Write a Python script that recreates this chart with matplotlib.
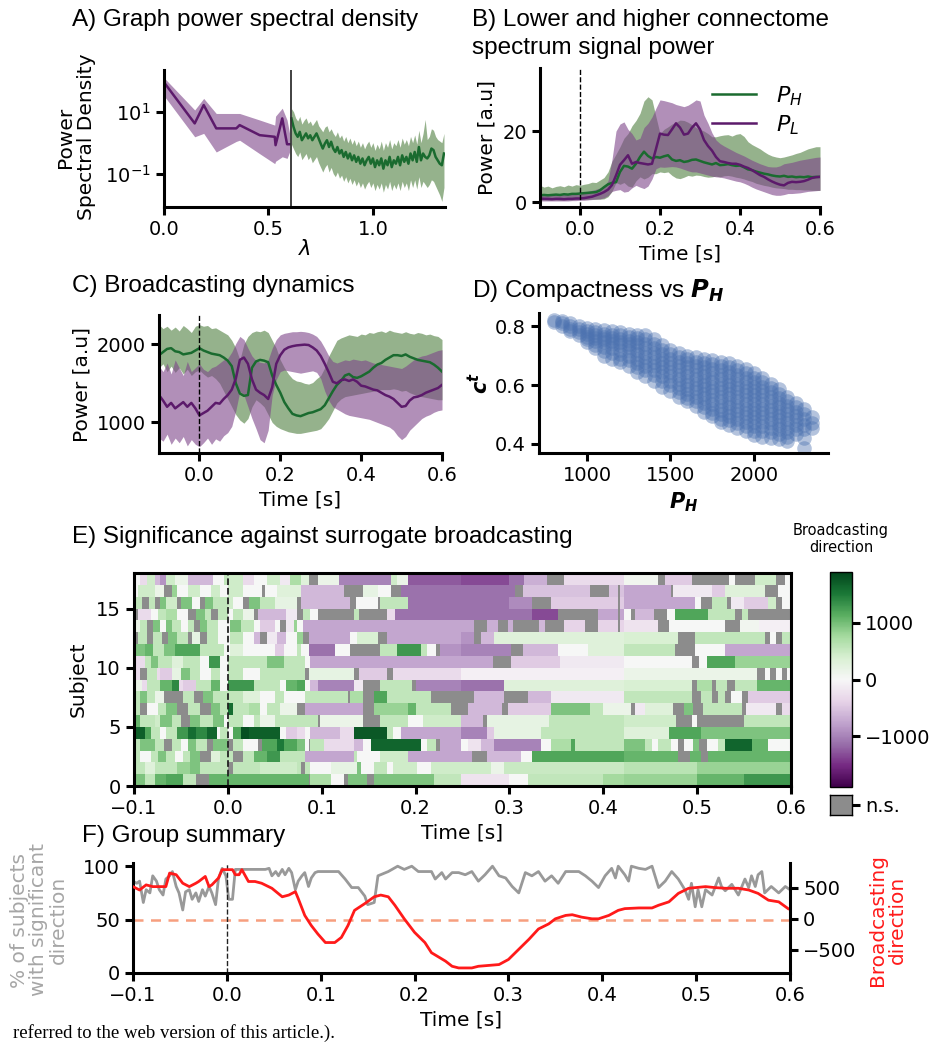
import numpy as np
import matplotlib
matplotlib.use('Agg')
import matplotlib.pyplot as plt
import matplotlib.ticker as mticker

plt.rcParams['font.family'] = ['DejaVu Sans']
plt.rcParams['mathtext.fontset'] = 'dejavusans'

# ---------------- DATA ----------------
# Panel A: graph power spectral density
lam_L = [0.003, 0.147, 0.19, 0.25, 0.346, 0.362, 0.458, 0.53, 0.534, 0.566, 0.589, 0.601]
psd_L = [84, 4.2, 16.5, 2.9, 2.9, 3.7, 1.75, 1.55, 0.83, 6.1, 0.89, 0.89]
psd_L_hi = [120, 11.4, 27, 8.8, 8.8, 8.8, 5.4, 3.7, 7.2, 13.0, 5.4, 2.0]
psd_L_lo = [31, 1.55, 2.0, 0.5, 1.1, 1.2, 0.44, 0.21, 0.25, 0.35, 0.31, 0.5]
lam_H = np.round(np.arange(0.61, 1.345, 0.01), 2)
psd_H_log10 = [0.785, 0.51, 0.30, 0.19, 0.35, 0.08, 0.19, 0.30, 0.14, 0.24,
               0.08, 0.19, 0.30, 0.14, -0.03, -0.19, -0.03, 0.08, -0.14, 0.03,
               -0.19, -0.30, -0.14, -0.35, -0.24, -0.46, -0.30, -0.51, -0.35, -0.57,
               -0.41, -0.62, -0.46, -0.68, -0.51, -0.73, -0.57, -0.46, -0.68, -0.51,
               -0.79, -0.57, -0.73, -0.51, -0.84, -0.57, -0.73, -0.46, -0.79, -0.57,
               -0.68, -0.46, -0.73, -0.41, -0.62, -0.46, -0.68, -0.35, -0.57, -0.30,
               -0.62, -0.14, -0.57, -0.35, -0.46, -0.51, -0.41, -0.19, -0.24, -0.46,
               -0.57, -0.68, -0.73, -0.35]
psd_H_hi_log10 = [1.10, 1.00, 0.80, 0.70, 0.85, 0.60, 0.72, 0.80, 0.62, 0.70,
                  0.55, 0.65, 0.75, 0.55, 0.45, 0.35, 0.50, 0.55, 0.35, 0.45,
                  0.30, 0.20, 0.35, 0.15, 0.25, 0.05, 0.20, 0.00, 0.15, -0.05,
                  0.10, -0.10, 0.05, -0.15, 0.00, -0.20, -0.05, 0.05, -0.15, 0.00,
                  -0.25, -0.05, -0.20, 0.05, -0.25, 0.00, -0.15, 0.10, -0.20, 0.00,
                  -0.10, 0.10, -0.15, 0.15, -0.05, 0.10, -0.10, 0.20, 0.00, 0.25,
                  -0.05, 0.40, 0.00, 0.30, 0.75, 0.10, 0.20, 0.45, 0.40, 0.20,
                  0.10, 0.05, 0.00, 0.30]
psd_H_lo_log10 = [-0.05, -0.20, -0.35, -0.45, -0.30, -0.55, -0.45, -0.35, -0.55, -0.45,
                  -0.65, -0.55, -0.45, -0.65, -0.80, -0.95, -0.80, -0.70, -0.95, -0.80,
                  -1.00, -1.10, -0.95, -1.15, -1.05, -1.25, -1.10, -1.30, -1.15, -1.35,
                  -1.20, -1.40, -1.25, -1.45, -1.30, -1.50, -1.35, -1.25, -1.45, -1.30,
                  -1.55, -1.35, -1.50, -1.30, -1.60, -1.35, -1.50, -1.25, -1.55, -1.35,
                  -1.50, -1.30, -1.55, -1.25, -1.45, -1.30, -1.55, -1.20, -1.45, -1.20,
                  -1.50, -1.10, -1.45, -1.25, -1.35, -1.45, -1.35, -1.20, -1.25, -1.40,
                  -1.55, -1.70, -1.90, -1.45]
lam_cut = 0.61

# Panels B and C share a time axis (s)
t_bc = np.round(np.arange(-0.10, 0.601, 0.01), 2)
B_PH = [1.9, 2.0, 1.9, 2.0, 2.1, 2.0, 2.2, 2.1, 2.3, 2.3,
        2.4, 2.5, 2.6, 2.7, 2.8, 3.3, 4.2, 5.0, 5.4, 5.6,
        8.5, 10.2, 10.0, 9.4, 10.8, 12.7, 14.2, 13.0, 12.3, 12.7,
        12.5, 12.9, 13.2, 12.0, 11.6, 11.8, 11.3, 11.5, 11.9, 12.0,
        11.6, 11.2, 10.9, 10.6, 11.0, 10.4, 10.5, 10.7, 10.4, 10.2,
        10.3, 9.8, 9.2, 9.0, 8.6, 8.3, 8.0, 7.8, 7.5, 7.3,
        7.2, 7.4, 7.1, 7.2, 7.0, 7.1, 7.0, 7.2, 7.0, 7.1, 7.1]
B_PL = [1.0, 0.9, 0.9, 0.8, 0.9, 0.9, 0.8, 0.9, 0.9, 1.0,
        1.0, 1.1, 1.3, 1.5, 1.9, 2.3, 2.8, 3.5, 4.8, 7.5,
        10.5, 11.8, 13.2, 10.8, 11.3, 11.0, 10.8, 10.6, 10.8, 15.0,
        19.3, 19.0, 18.9, 20.5, 22.2, 21.0, 19.0, 19.3, 21.0, 22.2,
        20.5, 17.5, 15.8, 14.5, 12.7, 11.5, 11.3, 11.0, 10.8, 10.8,
        10.5, 10.0, 9.6, 9.0, 8.3, 7.6, 7.1, 6.4, 5.8, 5.3,
        4.9, 4.7, 5.4, 5.7, 5.6, 5.7, 5.9, 6.3, 6.8, 7.0, 7.1]
B_PH_hi = [4.7, 4.2, 4.5, 4.0, 4.4, 4.6, 4.3, 4.8, 4.5, 4.9,
           4.7, 5.0, 5.2, 5.6, 5.5, 6.2, 6.9, 8.5, 11.5, 13.5,
           15.6, 18.0, 19.3, 21.5, 23.0, 25.0, 28.5, 29.7, 28.8, 24.0,
           19.3, 20.5, 21.2, 22.0, 22.5, 23.1, 23.0, 22.5, 21.8, 21.0,
           20.5, 20.0, 19.3, 18.4, 18.4, 18.7, 18.9, 19.0, 18.6, 19.1,
           19.3, 18.5, 17.0, 16.2, 15.6, 15.0, 14.2, 13.5, 13.0, 12.7,
           12.5, 12.7, 13.0, 13.3, 13.7, 14.0, 14.5, 15.0, 15.3, 15.6, 15.6]
B_PH_lo = [0.5, 0.6, 0.5, 0.6, 0.6, 0.5, 0.6, 0.6, 0.6, 0.7,
           0.7, 0.7, 0.7, 0.8, 0.8, 0.8, 0.9, 1.5, 3.0, 5.5,
           5.0, 5.5, 4.5, 4.2, 6.0, 7.1, 6.5, 7.0, 8.0, 8.0,
           8.5, 8.3, 8.5, 7.5, 6.8, 6.6, 7.0, 7.5, 7.3, 7.6,
           7.5, 7.2, 7.0, 7.1, 7.3, 7.1, 7.4, 7.5, 7.3, 7.0,
           6.8, 6.5, 6.1, 5.8, 5.3, 5.0, 4.7, 4.5, 4.2, 4.0,
           3.9, 3.8, 3.6, 3.6, 3.5, 3.5, 3.4, 3.4, 3.3, 3.3, 3.3]
B_PL_hi = [2.4, 2.3, 2.4, 2.3, 2.4, 2.3, 2.4, 2.4, 2.4, 2.5,
           2.5, 2.7, 3.0, 3.3, 3.6, 4.0, 4.3, 6.0, 12.0, 20.0,
           22.0, 22.6, 20.5, 19.3, 17.5, 18.0, 21.0, 22.2, 24.0, 26.5,
           28.8, 28.6, 28.3, 28.0, 27.5, 27.2, 26.9, 27.3, 28.0, 28.8,
           28.5, 24.5, 22.2, 19.5, 17.5, 16.5, 15.8, 15.2, 14.6, 14.0,
           13.5, 13.0, 12.4, 11.8, 11.3, 10.8, 10.4, 10.0, 9.9, 9.9,
           10.2, 10.8, 11.0, 11.2, 11.5, 11.8, 12.0, 12.2, 12.4, 12.6, 12.7]
B_PL_lo = [0.3, 0.3, 0.3, 0.3, 0.3, 0.3, 0.3, 0.3, 0.4, 0.4,
           0.5, 0.5, 0.6, 0.7, 0.8, 0.9, 1.2, 1.8, 3.0, 3.3,
           3.5, 2.8, 3.0, 4.0, 4.7, 4.2, 3.8, 4.5, 6.5, 9.4,
           9.9, 9.8, 9.9, 10.0, 9.9, 9.6, 9.2, 8.8, 8.5, 8.5,
           8.2, 7.9, 7.6, 7.3, 7.1, 7.0, 6.8, 6.5, 6.2, 5.9,
           5.7, 5.3, 4.8, 4.2, 3.7, 3.3, 2.9, 2.5, 2.1, 1.9,
           1.9, 2.1, 2.4, 2.4, 2.5, 2.6, 2.8, 3.0, 3.1, 3.2, 3.3]

C_PH = [1860, 1900, 1940, 1950, 1910, 1900, 1870, 1880, 1890, 1920,
        1950, 1920, 1900, 1880, 1870, 1860, 1830, 1790, 1720, 1500,
        1370, 1340, 1350, 1700, 1780, 1800, 1790, 1770, 1600, 1480,
        1380, 1260, 1180, 1110, 1090, 1080, 1100, 1120, 1130, 1150,
        1170, 1220, 1310, 1400, 1480, 1530, 1600, 1620, 1580, 1570,
        1590, 1620, 1650, 1700, 1740, 1760, 1800, 1830, 1860, 1860,
        1850, 1870, 1840, 1820, 1800, 1790, 1780, 1770, 1740, 1700, 1650]
C_PL = [1350, 1280, 1200, 1250, 1180, 1220, 1260, 1200, 1250, 1180,
        1090, 1120, 1150, 1200, 1250, 1240, 1300, 1350, 1420, 1560,
        1800, 1830, 1750, 1550, 1420, 1380, 1350, 1300, 1450, 1750,
        1860, 1930, 1960, 1975, 1985, 1990, 1995, 1990, 1960, 1920,
        1850, 1750, 1640, 1520, 1500, 1540, 1550, 1530, 1550, 1520,
        1470, 1460, 1440, 1420, 1410, 1380, 1350, 1330, 1300, 1250,
        1200, 1210, 1280, 1320, 1330, 1350, 1380, 1400, 1420, 1440, 1480]
C_PH_hi = [2250, 2200, 2230, 2180, 2220, 2170, 2240, 2200, 2150, 2230,
           2250, 2230, 2240, 2200, 2210, 2180, 2150, 2120, 2050, 1950,
           1800, 2000, 2100, 2150, 2170, 2160, 2180, 2150, 2050, 1950,
           1800, 1700, 1620, 1560, 1530, 1520, 1500, 1490, 1510, 1560,
           1600, 1700, 1850, 1950, 2050, 2080, 2100, 2120, 2110, 2100,
           2130, 2120, 2150, 2140, 2160, 2170, 2150, 2180, 2160, 2150,
           2140, 2160, 2140, 2130, 2150, 2140, 2120, 2130, 2110, 2100, 2060]
C_PH_lo = [1700, 1750, 1650, 1720, 1640, 1700, 1620, 1680, 1600, 1650,
           1670, 1620, 1580, 1600, 1560, 1500, 1400, 1300, 1200, 1100,
           1030, 990, 1050, 1200, 1290, 1250, 1200, 1100, 1000, 950,
           920, 900, 880, 870, 860, 860, 870, 880, 890, 900,
           920, 980, 1050, 1150, 1250, 1300, 1330, 1340, 1350, 1360,
           1370, 1380, 1390, 1400, 1410, 1420, 1420, 1420, 1430, 1420,
           1400, 1410, 1380, 1360, 1340, 1330, 1320, 1310, 1300, 1290, 1290]
C_PL_hi = [1720, 1650, 1760, 1620, 1800, 1700, 1600, 1780, 1650, 1700,
           1750, 1680, 1650, 1700, 1720, 1760, 1800, 1820, 1900, 2010,
           2100, 2060, 1950, 1850, 1790, 1770, 1760, 1800, 1950, 2060,
           2120, 2140, 2150, 2160, 2160, 2165, 2160, 2150, 2130, 2100,
           2040, 1950, 1850, 1780, 1760, 1780, 1800, 1790, 1810, 1800,
           1790, 1800, 1780, 1760, 1750, 1740, 1730, 1720, 1710, 1700,
           1690, 1720, 1760, 1800, 1830, 1850, 1860, 1880, 1900, 1920, 1930]
C_PL_lo = [800, 760, 850, 720, 800, 740, 820, 700, 780, 720,
           690, 740, 800, 720, 790, 760, 830, 870, 950, 1150,
           1400, 1350, 1200, 1050, 920, 780, 740, 900, 1350, 1550,
           1650, 1670, 1660, 1650, 1640, 1630, 1640, 1650, 1660, 1640,
           1560, 1400, 1280, 1200, 1170, 1140, 1110, 1090, 1080, 1070,
           1060, 1050, 1040, 1020, 1000, 980, 960, 940, 900, 830,
           780, 820, 900, 950, 1000, 1050, 1080, 1100, 1130, 1150, 1160]

# Panel D: compactness vs P_H (columns of points, P_H value -> list of c^t values)
D_PH = [800, 850, 900, 950, 1000, 1050, 1100, 1150, 1200, 1250, 1300, 1350, 1400,
        1450, 1500, 1550, 1600, 1650, 1700, 1750, 1800, 1850, 1900, 1950, 2000,
        2050, 2100, 2150, 2200, 2250, 2300, 2350]
D_ct = [
    [0.822, 0.816],
    [0.818, 0.81, 0.802],
    [0.81, 0.80, 0.79, 0.785],
    [0.80, 0.79, 0.78, 0.77],
    [0.795, 0.785, 0.775, 0.765, 0.755, 0.745],
    [0.79, 0.78, 0.77, 0.76, 0.75, 0.735, 0.725],
    [0.787, 0.775, 0.765, 0.755, 0.745, 0.73, 0.715, 0.70],
    [0.783, 0.77, 0.76, 0.75, 0.74, 0.725, 0.71, 0.69],
    [0.78, 0.77, 0.755, 0.745, 0.735, 0.72, 0.705, 0.69, 0.678],
    [0.775, 0.765, 0.75, 0.74, 0.73, 0.715, 0.70, 0.685, 0.665],
    [0.77, 0.76, 0.745, 0.735, 0.72, 0.705, 0.69, 0.675, 0.66, 0.645],
    [0.77, 0.755, 0.74, 0.725, 0.71, 0.695, 0.68, 0.665, 0.65, 0.63],
    [0.755, 0.74, 0.725, 0.71, 0.695, 0.68, 0.665, 0.65, 0.635, 0.615],
    [0.735, 0.72, 0.705, 0.69, 0.675, 0.66, 0.645, 0.63, 0.615, 0.595],
    [0.72, 0.705, 0.69, 0.675, 0.66, 0.645, 0.63, 0.615, 0.60, 0.58],
    [0.71, 0.695, 0.68, 0.665, 0.65, 0.635, 0.62, 0.605, 0.59, 0.575, 0.56],
    [0.70, 0.69, 0.675, 0.66, 0.645, 0.63, 0.615, 0.60, 0.585, 0.57, 0.555, 0.545],
    [0.695, 0.68, 0.665, 0.65, 0.635, 0.62, 0.605, 0.59, 0.575, 0.56, 0.545, 0.53],
    [0.69, 0.675, 0.66, 0.645, 0.63, 0.615, 0.60, 0.585, 0.57, 0.555, 0.54, 0.525, 0.51],
    [0.685, 0.67, 0.655, 0.64, 0.625, 0.61, 0.595, 0.58, 0.565, 0.55, 0.535, 0.52, 0.505, 0.495],
    [0.68, 0.665, 0.65, 0.635, 0.62, 0.605, 0.59, 0.575, 0.56, 0.545, 0.53, 0.515, 0.50, 0.485, 0.475],
    [0.675, 0.66, 0.645, 0.63, 0.615, 0.60, 0.585, 0.57, 0.555, 0.54, 0.525, 0.51, 0.495, 0.48, 0.465],
    [0.665, 0.65, 0.635, 0.62, 0.605, 0.59, 0.575, 0.56, 0.545, 0.53, 0.515, 0.50, 0.485, 0.47, 0.455],
    [0.655, 0.64, 0.625, 0.61, 0.595, 0.58, 0.565, 0.55, 0.535, 0.52, 0.505, 0.49, 0.475, 0.46, 0.445],
    [0.64, 0.625, 0.61, 0.595, 0.58, 0.565, 0.55, 0.535, 0.52, 0.505, 0.49, 0.475, 0.46, 0.445, 0.43],
    [0.625, 0.61, 0.595, 0.58, 0.565, 0.55, 0.535, 0.52, 0.505, 0.49, 0.475, 0.46, 0.445, 0.425],
    [0.605, 0.59, 0.575, 0.56, 0.545, 0.53, 0.515, 0.50, 0.485, 0.47, 0.455, 0.44, 0.42],
    [0.585, 0.57, 0.555, 0.54, 0.525, 0.51, 0.495, 0.48, 0.465, 0.45, 0.435, 0.415],
    [0.56, 0.545, 0.53, 0.515, 0.50, 0.485, 0.47, 0.455, 0.44, 0.425, 0.41],
    [0.54, 0.525, 0.51, 0.495, 0.48, 0.465, 0.45, 0.435],
    [0.52, 0.50, 0.485, 0.465, 0.45, 0.42, 0.387],
    [0.49, 0.47, 0.455],
]

# Panel E: per-subject broadcasting direction, segments (start time, value); None = n.s.
N = None
subj17 = [(-0.1, 0), (-0.093, -300), (-0.086, 450), (-0.079, -600), (-0.072, -880), (-0.066, 450),
          (-0.057, 150), (-0.043, -600), (-0.015, 0), (-0.004, 550), (0.001, 450), (0.017, -300),
          (0.028, 0), (0.042, 450), (0.056, -150), (0.067, 700), (0.078, 300), (0.087, N), (0.096, 150),
          (0.117, -1000), (0.174, 450), (0.181, 150), (0.192, -1250), (0.249, -1350), (0.30, -1120),
          (0.316, -680), (0.339, N), (0.359, -300), (0.423, 80), (0.459, N), (0.466, -450), (0.494, N),
          (0.535, 0), (0.540, N), (0.563, 450), (0.585, N), (0.594, 0)]
subj16 = [(-0.1, 0), (-0.095, 450), (-0.079, 150), (-0.068, N), (-0.061, 820), (-0.054, 0), (-0.043, 450),
          (-0.029, 0), (-0.018, 450), (-0.008, 0), (0.001, 450), (0.017, 0), (0.036, N), (0.040, 0),
          (0.052, 300), (0.078, -600), (0.124, N), (0.144, 220), (0.16, 0), (0.174, N), (0.184, -1120),
          (0.307, N), (0.315, -520), (0.387, N), (0.407, -520), (0.416, N), (0.419, -520), (0.423, -750),
          (0.473, N), (0.475, -150), (0.516, -450), (0.53, 300), (0.573, N), (0.587, 0)]
subj15 = [(-0.1, 550), (-0.091, N), (-0.084, 550), (-0.079, N), (-0.073, 950), (-0.065, 450), (-0.054, N),
          (-0.049, 950), (-0.038, 0), (-0.029, N), (-0.024, 950), (-0.015, 550), (0.001, 450), (0.006, 0),
          (0.017, N), (0.022, 950), (0.035, 550), (0.049, 220), (0.0745, N), (0.078, -600), (0.131, N),
          (0.137, 0), (0.16, N), (0.163, 550), (0.192, -1120), (0.30, -950), (0.323, N), (0.343, -450),
          (0.416, N), (0.419, -450), (0.423, -750), (0.498, 0), (0.505, N), (0.517, 550), (0.533, N),
          (0.537, -150), (0.551, -450), (0.576, 450), (0.585, N), (0.590, 0)]
subj14 = [(-0.1, N), (-0.096, -300), (-0.082, 0), (-0.075, 550), (-0.065, 700), (-0.054, 0), (-0.043, N),
          (-0.033, 950), (-0.024, 550), (-0.017, N), (-0.010, 550), (0.001, 0), (0.006, 550), (0.017, 150),
          (0.028, N), (0.033, -600), (0.063, -150), (0.0745, N), (0.080, 550), (0.089, 0), (0.096, N),
          (0.135, 550), (0.140, N), (0.170, -300), (0.179, -1120), (0.323, -1350), (0.352, N),
          (0.394, -750), (0.416, N), (0.419, -750), (0.423, 0), (0.430, N), (0.434, -600), (0.455, N),
          (0.468, 0), (0.477, 1200), (0.512, 550), (0.540, N), (0.548, 550), (0.555, N)]
subj13 = [(-0.1, 150), (-0.093, 550), (-0.086, N), (-0.080, 950), (-0.073, 0), (-0.066, 950), (-0.061, 550),
          (-0.050, 0), (-0.043, 550), (-0.036, N), (-0.029, 950), (-0.022, 550), (-0.011, 0), (0.003, 950),
          (0.013, 550), (0.028, 0), (0.035, -450), (0.049, 0), (0.056, N), (0.063, -150), (0.070, 820),
          (0.0745, 0), (0.080, -750), (0.263, N), (0.276, -680), (0.288, N), (0.299, -680), (0.304, N),
          (0.331, -600), (0.338, N), (0.359, -380), (0.380, N), (0.394, -380), (0.416, N), (0.419, -380),
          (0.423, -220), (0.459, N), (0.470, 0), (0.530, N), (0.546, 80), (0.567, -80)]
subj12 = [(-0.1, N), (-0.095, 550), (-0.086, N), (-0.080, 550), (-0.070, N), (-0.063, 950), (-0.054, 550),
          (-0.043, N), (-0.038, 220), (-0.029, N), (-0.022, 550), (-0.011, 0), (0.003, 550), (0.017, 0),
          (0.028, -600), (0.035, N), (0.042, -150), (0.052, -600), (0.063, 0), (0.0745, 820), (0.080, N),
          (0.085, -750), (0.131, 0), (0.138, 380), (0.160, N), (0.170, -750), (0.249, -880), (0.263, N),
          (0.270, -600), (0.284, 300), (0.423, 380), (0.480, N), (0.498, 550), (0.572, N), (0.579, 0),
          (0.585, N), (0.590, 550)]
subj11 = [(-0.1, 950), (-0.089, 1080), (-0.080, 550), (-0.068, 950), (-0.057, 1200), (-0.029, 550),
          (-0.004, 0), (0.003, 300), (0.017, 0), (0.049, -450), (0.060, 0), (0.0745, 550), (0.078, 0),
          (0.085, -1120), (0.113, 0), (0.131, N), (0.163, 550), (0.181, 1300), (0.206, 550), (0.213, 0),
          (0.223, N), (0.227, -880), (0.249, -1000), (0.302, N), (0.315, -600), (0.352, 0), (0.384, 300),
          (0.423, 550), (0.477, N), (0.498, 0), (0.530, -750)]
subj10 = [(-0.1, -300), (-0.089, 550), (-0.082, 950), (-0.075, 550), (-0.061, 300), (-0.047, 550),
          (-0.029, 0), (-0.020, 1300), (-0.008, 0), (0.001, 550), (0.042, 950), (0.060, 550), (0.082, 0),
          (0.089, -750), (0.283, N), (0.302, -450), (0.355, -150), (0.423, 0), (0.494, N), (0.503, 0),
          (0.510, 1200), (0.540, 820)]
subj9 = [(-0.1, -300), (-0.093, N), (-0.086, 550), (-0.077, -300), (-0.072, -450), (-0.061, 220),
         (-0.050, 950), (-0.040, 550), (-0.029, 0), (-0.018, 550), (-0.008, 0), (0.001, 550), (0.017, 0),
         (0.035, 550), (0.082, N), (0.085, 220), (0.135, N), (0.140, -450), (0.170, N), (0.176, -300),
         (0.249, -80), (0.423, 150), (0.565, N), (0.572, 0), (0.579, N), (0.585, 0), (0.590, N), (0.597, 0)]
subj8 = [(-0.1, 150), (-0.091, -300), (-0.086, 550), (-0.072, 1080), (-0.061, 1400), (-0.052, -300),
         (-0.047, -450), (-0.033, 550), (-0.018, 1080), (-0.008, 0), (0.001, 1300), (0.028, 550), (0.056, 0),
         (0.063, 1080), (0.0745, 1200), (0.082, 0), (0.089, -600), (0.096, -1000), (0.135, -150), (0.145, N),
         (0.163, 550), (0.195, N), (0.200, -1000), (0.249, -1120), (0.295, 300), (0.423, 380), (0.494, N),
         (0.500, 700), (0.516, N), (0.521, 550), (0.533, N), (0.540, 550), (0.565, 1080)]
subj7 = [(-0.1, 550), (-0.093, 950), (-0.086, 550), (-0.079, 150), (-0.068, N), (-0.047, 550), (-0.036, N),
         (-0.026, 950), (-0.015, 550), (0.017, 300), (0.035, 0), (0.049, 550), (0.060, 0), (0.082, 550),
         (0.128, N), (0.131, 700), (0.145, N), (0.156, 1200), (0.170, 550), (0.216, N), (0.263, -600),
         (0.295, N), (0.320, -600), (0.345, -150), (0.423, 550), (0.494, N), (0.505, 550), (0.516, N),
         (0.523, 550), (0.530, N), (0.537, 0), (0.548, N), (0.555, -450)]
subj6 = [(-0.1, 550), (-0.093, N), (-0.086, 0), (-0.075, 550), (-0.065, 950), (-0.054, N), (-0.043, 550),
         (-0.029, N), (-0.018, 950), (-0.008, 550), (0.001, 1600), (0.006, 550), (0.021, 700), (0.035, 0),
         (0.042, 550), (0.056, 150), (0.0745, N), (0.082, -750), (0.145, N), (0.156, 820), (0.192, 1080),
         (0.200, 550), (0.238, N), (0.256, -600), (0.292, N), (0.299, -450), (0.345, 950), (0.387, 550),
         (0.401, 150), (0.430, N), (0.434, -150), (0.445, 300), (0.475, N), (0.486, 950), (0.496, N),
         (0.507, 550), (0.548, N), (0.553, -150), (0.585, N), (0.590, -300)]
subj5 = [(-0.1, 1080), (-0.093, 550), (-0.079, 450), (-0.072, 950), (-0.061, 550), (-0.050, N),
         (-0.040, 950), (-0.029, 550), (-0.015, 950), (-0.004, 0), (0.001, 550), (0.017, 0), (0.028, 550),
         (0.035, 150), (0.049, 550), (0.096, N), (0.099, 150), (0.145, N), (0.163, 550), (0.192, 0),
         (0.209, 450), (0.249, -600), (0.272, N), (0.277, 220), (0.341, 550), (0.423, 450), (0.478, N),
         (0.494, 0), (0.501, N), (0.551, 550)]
subj4 = [(-0.1, 1700), (-0.089, 1200), (-0.082, 550), (-0.072, 0), (-0.065, 550), (-0.054, 1300),
         (-0.043, 1600), (-0.033, 1400), (-0.022, 1650), (-0.013, 0), (-0.008, 550), (0.001, 0),
         (0.006, 1200), (0.013, 1800), (0.021, 1700), (0.056, 0), (0.063, -450), (0.0745, -300), (0.082, 0),
         (0.089, -600), (0.121, -300), (0.135, 1750), (0.170, 550), (0.177, 0), (0.184, -750),
         (0.249, -1000), (0.276, -450), (0.284, 220), (0.334, 550), (0.423, 300), (0.470, 1200), (0.505, 950)]
subj3 = [(-0.1, 550), (-0.093, 950), (-0.079, 550), (-0.068, N), (-0.061, 550), (-0.050, 0), (-0.043, 950),
         (-0.033, 550), (-0.022, N), (-0.015, 950), (0.001, N), (0.006, 550), (0.017, 0), (0.033, N),
         (0.037, 1200), (0.052, 1500), (0.060, 1200), (0.0745, 950), (0.082, 0), (0.085, N), (0.089, 550),
         (0.103, -300), (0.135, -600), (0.145, 0), (0.152, 1650), (0.206, 0), (0.213, 550), (0.223, N),
         (0.227, -750), (0.249, 0), (0.256, -220), (0.270, -600), (0.284, -1000), (0.334, 0), (0.345, 700),
         (0.366, 1200), (0.371, 550), (0.423, 950), (0.445, 550), (0.452, 0), (0.459, 550), (0.473, 0),
         (0.480, N), (0.486, 0), (0.496, 950), (0.503, N), (0.510, 0), (0.523, 550), (0.530, 1650),
         (0.558, 1080), (0.576, 0)]
subj2 = [(-0.1, 550), (-0.093, 0), (-0.082, 550), (-0.075, 950), (-0.066, 550), (-0.057, 0), (-0.047, 550),
         (-0.040, 950), (-0.029, N), (-0.018, 300), (-0.008, 550), (0.006, N), (0.017, 550), (0.028, 1080),
         (0.042, 1300), (0.056, 550), (0.082, -750), (0.135, 550), (0.138, 0), (0.163, 450), (0.192, -750),
         (0.260, N), (0.276, -600), (0.313, 0), (0.323, 1200), (0.423, 1080), (0.480, N), (0.492, 1080),
         (0.505, N), (0.512, 1080)]
subj1 = [(-0.1, 550), (-0.089, 300), (-0.079, 550), (-0.054, 820), (-0.040, 950), (-0.029, 550), (0.001, N),
         (0.006, 550), (0.035, 450), (0.0745, 550), (0.078, N), (0.082, 550), (0.089, 0), (0.110, 220),
         (0.138, 950), (0.142, 0), (0.156, 550), (0.170, 0), (0.177, 450), (0.202, 0), (0.216, 450),
         (0.28, 150), (0.295, 500), (0.423, 620), (0.50, 820)]
subj0 = [(-0.1, 950), (-0.089, 550), (-0.079, 1080), (-0.065, 1200), (-0.047, 550), (-0.033, N),
         (-0.020, 1080), (0.085, N), (0.089, 700), (0.110, 0), (0.124, N), (0.128, 950), (0.149, N),
         (0.156, 950), (0.22, 550), (0.249, -220), (0.30, 0), (0.32, 550), (0.40, 760), (0.423, 820),
         (0.50, 1080), (0.55, 1300)]
subjects = [subj0, subj1, subj2, subj3, subj4, subj5, subj6, subj7, subj8, subj9,
            subj10, subj11, subj12, subj13, subj14, subj15, subj16, subj17]

# Panel F: group summary
gray_t = [-0.100, -0.096, -0.093, -0.089, -0.086, -0.082, -0.079, -0.075, -0.072, -0.068,
          -0.065, -0.061, -0.058, -0.054, -0.051, -0.047, -0.044, -0.040, -0.037, -0.033,
          -0.030, -0.026, -0.023, -0.019, -0.016, -0.012, -0.009, -0.005, -0.001, 0.002,
          0.006, 0.009, 0.013, 0.041, 0.045, 0.048, 0.052, 0.055, 0.059, 0.062,
          0.066, 0.069, 0.073, 0.076, 0.080, 0.083, 0.087, 0.090, 0.094, 0.097,
          0.119, 0.126, 0.133, 0.140, 0.147, 0.150, 0.157, 0.161, 0.172, 0.182,
          0.189, 0.197, 0.204, 0.218, 0.222, 0.229, 0.233, 0.240, 0.247, 0.254,
          0.261, 0.268, 0.275, 0.283, 0.290, 0.297, 0.304, 0.311, 0.318, 0.325,
          0.332, 0.339, 0.346, 0.353, 0.361, 0.368, 0.375, 0.382, 0.389, 0.396,
          0.403, 0.410, 0.414, 0.417, 0.424, 0.428, 0.431, 0.439, 0.446, 0.453,
          0.460, 0.467, 0.474, 0.481, 0.488, 0.492, 0.495, 0.499, 0.502, 0.506,
          0.510, 0.517, 0.524, 0.527, 0.531, 0.538, 0.545, 0.552, 0.556, 0.559,
          0.563, 0.566, 0.570, 0.573, 0.580, 0.588, 0.595, 0.600]
gray_pct = [86, 84, 86, 66, 78, 75, 91, 86, 78, 73, 88, 91, 95, 81, 75, 59, 76, 78, 69, 75,
            67, 78, 72, 81, 75, 64, 88, 98, 91, 69, 69, 97, 97, 97, 98, 91, 95, 91, 97, 92,
            98, 94, 78, 86, 91, 94, 81, 89, 94, 95, 95, 88, 80, 80, 72, 64, 66, 91, 95, 100,
            97, 100, 95, 95, 88, 94, 88, 94, 94, 92, 95, 86, 92, 100, 91, 89, 81, 75, 94, 91,
            95, 86, 91, 84, 95, 95, 95, 91, 86, 80, 91, 98, 89, 100, 92, 86, 100, 98, 97, 100,
            80, 86, 95, 88, 78, 69, 84, 62, 78, 62, 78, 73, 89, 81, 77, 83, 73, 88, 80, 91,
            81, 92, 95, 75, 81, 75, 81, 78]
red_t = [-0.100, -0.093, -0.086, -0.079, -0.072, -0.065, -0.061, -0.054, -0.047, -0.040,
         -0.033, -0.030, -0.023, -0.019, -0.016, -0.009, -0.005, 0.006, 0.009, 0.013,
         0.016, 0.023, 0.030, 0.037, 0.048, 0.059, 0.066, 0.073, 0.076, 0.083,
         0.090, 0.097, 0.105, 0.115, 0.122, 0.129, 0.136, 0.147, 0.157, 0.164,
         0.172, 0.179, 0.189, 0.200, 0.211, 0.218, 0.233, 0.240, 0.247, 0.261,
         0.268, 0.290, 0.300, 0.311, 0.322, 0.332, 0.343, 0.350, 0.361, 0.368,
         0.378, 0.389, 0.396, 0.407, 0.417, 0.424, 0.439, 0.453, 0.460, 0.471,
         0.481, 0.492, 0.510, 0.520, 0.531, 0.545, 0.556, 0.566, 0.577, 0.588, 0.598]
red_val = [522, 467, 550, 522, 522, 522, 742, 715, 577, 522, 577, 605, 687, 522, 550, 660, 797, 797,
           715, 715, 797, 605, 605, 577, 495, 357, 385, 440, 330, 55, -110, -247, -385, -385, -302,
           -110, 137, 247, 357, 385, 357, 220, 0, -220, -385, -550, -687, -770, -797, -797, -770,
           -742, -660, -495, -330, -165, -82, 0, 55, 66, 27, 0, 0, 55, 137, 165, 176, 176, 220, 275,
           412, 495, 522, 506, 495, 495, 467, 412, 302, 275, 165]

# ---------------- STYLE ----------------
W, H = 935, 1043
fig = plt.figure(figsize=(W / 100, H / 100), dpi=100)


def rect(l, t, r, b):
    return [l / W, 1 - b / H, (r - l) / W, (b - t) / H]


SPW = 2.2
GREEN = '#1a6b2f'
PURPLE = '#5c1a6b'
GFILL = '#4f7f3f'
PFILL = '#7d4489'
TFONT = dict(fontsize=17.5, family='Liberation Sans', ha='left', va='center')


def style(ax, spines=('left', 'bottom')):
    for s in ['left', 'right', 'top', 'bottom']:
        ax.spines[s].set_visible(s in spines)
        ax.spines[s].set_linewidth(SPW)
    ax.tick_params(width=SPW, length=6, labelsize=14)


def title(x, y, s, **kw):
    d = dict(TFONT)
    d.update(kw)
    fig.text(x / W, 1 - y / H, s, **d)


# ---------------- A ----------------
axA = fig.add_axes(rect(164, 70, 445, 207))
style(axA)
axA.fill_between(lam_L, psd_L_lo, psd_L_hi, color=PFILL, alpha=0.6, lw=0)
axA.plot(lam_L, psd_L, color=PURPLE, lw=1.8)
axA.fill_between(lam_H, 10 ** np.array(psd_H_lo_log10), 10 ** np.array(psd_H_hi_log10),
                 color=GFILL, alpha=0.6, lw=0)
axA.plot(lam_H, 10 ** np.array(psd_H_log10), color=GREEN, lw=1.8)
axA.axvline(lam_cut, color='#333333', lw=1.3)
axA.set_yscale('log')
axA.set_ylim(10 ** -2.08, 10 ** 2.35)
axA.set_xlim(0, 1.345)
axA.yaxis.set_major_locator(mticker.FixedLocator([0.1, 10]))
axA.yaxis.set_minor_locator(mticker.NullLocator())
axA.set_xticks([0, 0.5, 1.0])
axA.set_xlabel(r'$\lambda$', fontsize=15, labelpad=0)
fig.text(76 / W, 1 - 137 / H, 'Power\nSpectral Density', rotation=90, ha='center', va='center',
         fontsize=14.5, linespacing=1.1)
title(72, 20, 'A) Graph power spectral density')

# ---------------- B ----------------
axB = fig.add_axes(rect(540, 68, 820, 207))
style(axB)
axB.fill_between(t_bc, B_PH_lo, B_PH_hi, color=GFILL, alpha=0.6, lw=0)
axB.fill_between(t_bc, B_PL_lo, B_PL_hi, color=PFILL, alpha=0.6, lw=0)
lH, = axB.plot(t_bc, B_PH, color=GREEN, lw=1.8)
lL, = axB.plot(t_bc, B_PL, color=PURPLE, lw=1.8)
axB.axvline(0, color='k', ls='--', lw=1.0)
axB.set_xlim(-0.1, 0.6)
axB.set_ylim(-1.4, 37.8)
axB.set_yticks([0, 20])
axB.set_xticks([0.0, 0.2, 0.4, 0.6])
axB.set_xlabel('Time [s]', fontsize=14.5)
axB.set_ylabel('Power [a.u]', fontsize=14.5, labelpad=4)
axB.legend([lH, lL], [r'$P_H$', r'$P_L$'], loc='upper left', bbox_to_anchor=(712 / W, 1 - 84 / H),
           bbox_transform=fig.transFigure, frameon=False, fontsize=16, handlelength=2.0,
           borderaxespad=0, borderpad=0, labelspacing=0.25, handletextpad=0.9)
title(472, 34, 'B) Lower and higher connectome\nspectrum signal power', linespacing=1.33)

# ---------------- C ----------------
axC = fig.add_axes(rect(159, 315, 442, 453))
style(axC)
axC.fill_between(t_bc, C_PH_lo, C_PH_hi, color=GFILL, alpha=0.6, lw=0)
axC.fill_between(t_bc, C_PL_lo, C_PL_hi, color=PFILL, alpha=0.6, lw=0)
axC.plot(t_bc, C_PH, color=GREEN, lw=1.8)
axC.plot(t_bc, C_PL, color=PURPLE, lw=1.8)
axC.axvline(0, color='k', ls='--', lw=1.0)
axC.set_xlim(-0.1, 0.6)
axC.set_ylim(609, 2374)
axC.set_yticks([1000, 2000])
axC.set_xticks([0.0, 0.2, 0.4, 0.6])
axC.set_xlabel('Time [s]', fontsize=14.5)
axC.set_ylabel('Power [a.u]', fontsize=14.5, labelpad=4)
title(72, 286, 'C) Broadcasting dynamics')

# ---------------- D ----------------
axD = fig.add_axes(rect(539, 313, 828, 453))
style(axD)
dx = np.concatenate([[x] * len(ys) for x, ys in zip(D_PH, D_ct)])
dy = np.concatenate(D_ct)
axD.scatter(dx, dy, s=110, color='#4c72b0', alpha=0.42, lw=0)
axD.set_xlim(713, 2443)
axD.set_ylim(0.369, 0.845)
axD.set_xticks([1000, 1500, 2000])
axD.set_yticks([0.4, 0.6, 0.8])
axD.set_xlabel(r'$\mathbfit{P}_\mathbfit{H}$', fontsize=15)
axD.set_ylabel(r'$\mathbfit{c}^\mathbfit{t}$', fontsize=15, labelpad=2)
title(472, 290, r'D) Compactness vs $\mathbfit{P}_\mathbfit{H}$')

# ---------------- E ----------------
axE = fig.add_axes(rect(134, 573, 791, 786))
style(axE, spines=('left', 'bottom', 'top', 'right'))
t_edges = np.linspace(-0.1, 0.6, 351)
t_cent = 0.5 * (t_edges[:-1] + t_edges[1:])
Z = np.full((len(subjects), len(t_cent)), np.nan)
for i, segs in enumerate(subjects):
    segs = sorted(segs, key=lambda s: s[0])
    starts = np.array([s for s, _ in segs])
    vals = np.array([np.nan if v is None else v for _, v in segs], float)
    idx = np.clip(np.searchsorted(starts, t_cent, side='right') - 1, 0, len(starts) - 1)
    Z[i] = vals[idx]
cmap = plt.get_cmap('PRGn').copy()
cmap.set_bad('#8c8c8c')
mesh = axE.pcolormesh(t_edges, np.arange(len(subjects) + 1), np.ma.masked_invalid(Z),
                      cmap=cmap, vmin=-1900, vmax=1900, shading='flat')
axE.axvline(0, color='#222222', ls='--', lw=1.3)
axE.set_xlim(-0.1, 0.6)
axE.set_ylim(0, 18)
axE.set_xticks(np.round(np.arange(-0.1, 0.61, 0.1), 1))
axE.set_yticks([0, 5, 10, 15])
axE.set_xlabel('Time [s]', fontsize=14.5)
axE.set_ylabel('Subject', fontsize=14.5, labelpad=6)
title(72, 537, 'E) Significance against surrogate broadcasting')

cax = fig.add_axes(rect(830, 572, 852, 787))
cb = fig.colorbar(mesh, cax=cax)
cb.set_ticks([-1000, 0, 1000])
cb.outline.set_linewidth(1.0)
cax.tick_params(width=SPW, length=6, labelsize=14)
fig.text(841 / W, 1 - 539 / H, 'Broadcasting\ndirection', ha='center', va='center', fontsize=10.5,
         linespacing=1.25)
nax = fig.add_axes(rect(830, 795, 852, 815))
nax.set_facecolor('#8c8c8c')
nax.set_xticks([])
nax.yaxis.tick_right()
nax.set_ylim(0, 1)
nax.set_yticks([0.5])
nax.set_yticklabels(['n.s.'])
nax.tick_params(width=SPW, length=6, labelsize=14)
for s in nax.spines.values():
    s.set_linewidth(1.0)

# ---------------- F ----------------
axF = fig.add_axes(rect(133, 863, 790, 973))
style(axF)
axF.axhline(50, color='#f79f7f', ls='--', lw=1.8, dashes=(4, 3))
axF.plot(gray_t, gray_pct, color='#999999', lw=2.0)
axF.axvline(0, color='#222222', ls='--', lw=1.0)
axF.set_xlim(-0.1, 0.6)
axF.set_ylim(0, 103)
axF.set_yticks([0, 50, 100])
axF.set_xticks(np.round(np.arange(-0.1, 0.61, 0.1), 1))
axF.set_xlabel('Time [s]', fontsize=14.5)
fig.text(39 / W, 1 - 920 / H, '% of subjects\nwith significant\ndirection', rotation=90, ha='center',
         va='center', fontsize=14.5, color='#a6a6a6', linespacing=1.05)
axF2 = axF.twinx()
style(axF2, spines=('right',))
axF2.plot(red_t, red_val, color='#ff1a1a', lw=2.0)
axF2.set_ylim(-879, 905)
axF2.set_yticks([-500, 0, 500])
axF2.set_xlim(-0.1, 0.6)
fig.text(887 / W, 1 - 920 / H, 'Broadcasting\ndirection', rotation=90, ha='center', va='center',
         fontsize=14.5, color='#ff1a1a', linespacing=1.05)
title(82, 836, 'F) Group summary')

fig.text(13 / W, 1 - 1033 / H, 'referred to the web version of this article.).', ha='left', va='center',
         fontsize=13.5, family='Liberation Serif')

fig.savefig('out.png', dpi=100)
